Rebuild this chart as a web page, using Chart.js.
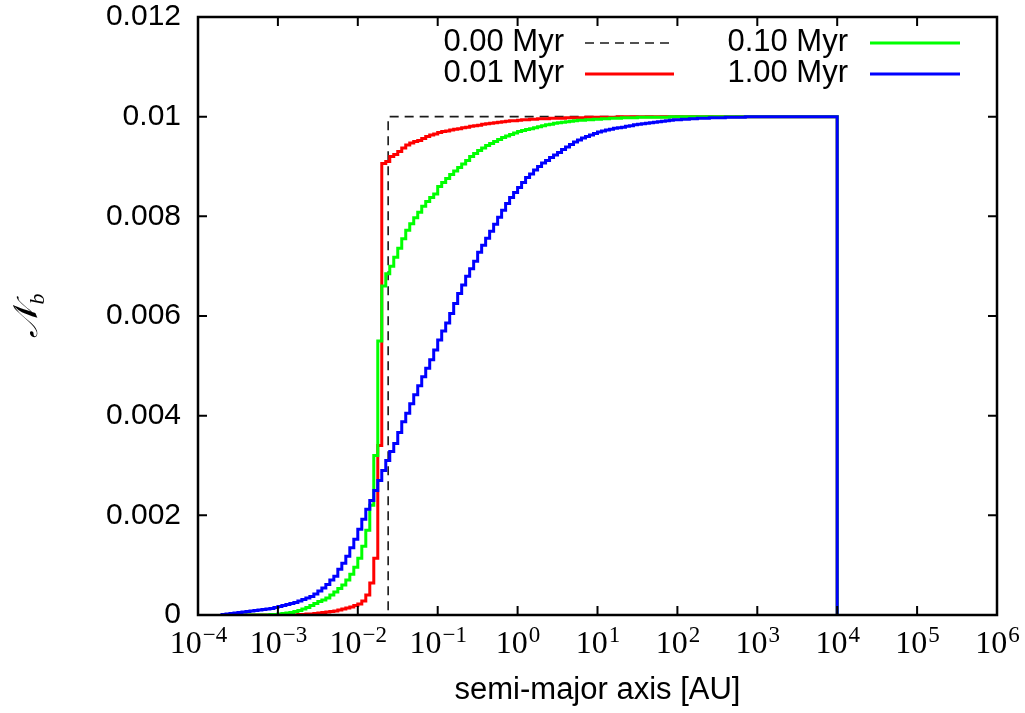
<!DOCTYPE html>
<html>
<head>
<meta charset="utf-8">
<title>N_b versus semi-major axis</title>
<script src="https://cdn.jsdelivr.net/npm/chart.js@4.4.1/dist/chart.umd.min.js"></script>
<style>
	html, body { margin: 0; padding: 0; background: #fff; }
	canvas { display: block; }
</style>
</head>
<body>
<canvas id="nb-chart" width="1025" height="713"></canvas>
<script>
(function() {
	'use strict';

	// Bin edges, log10(a / AU). Every series below has one value per edge.
	const logEdges = [
		-3.70, -3.65, -3.60, -3.55, -3.50, -3.45, -3.40, -3.35, -3.30, -3.25,
		-3.20, -3.15, -3.10, -3.05, -3.00, -2.95, -2.90, -2.85, -2.80, -2.75,
		-2.70, -2.65, -2.60, -2.55, -2.50, -2.45, -2.40, -2.35, -2.30, -2.25,
		-2.20, -2.15, -2.10, -2.05, -2.00, -1.95, -1.90, -1.85, -1.80, -1.75,
		-1.70, -1.65, -1.60, -1.55, -1.50, -1.45, -1.40, -1.35, -1.30, -1.25,
		-1.20, -1.15, -1.10, -1.05, -1.00, -0.95, -0.90, -0.85, -0.80, -0.75,
		-0.70, -0.65, -0.60, -0.55, -0.50, -0.45, -0.40, -0.35, -0.30, -0.25,
		-0.20, -0.15, -0.10, -0.05, 0.00, 0.05, 0.10, 0.15, 0.20, 0.25,
		0.30, 0.35, 0.40, 0.45, 0.50, 0.55, 0.60, 0.65, 0.70, 0.75,
		0.80, 0.85, 0.90, 0.95, 1.00, 1.05, 1.10, 1.15, 1.20, 1.25,
		1.30, 1.35, 1.40, 1.45, 1.50, 1.55, 1.60, 1.65, 1.70, 1.75,
		1.80, 1.85, 1.90, 1.95, 2.00, 2.05, 2.10, 2.15, 2.20, 2.25,
		2.30, 2.35, 2.40, 2.45, 2.50, 2.55, 2.60, 2.65, 2.70, 2.75,
		2.80, 2.85, 2.90, 2.95, 3.00, 4.00, 4.00
	];

	// Cumulative N_b, in units of 1e-3
	const nb001Myr = [
		0, 0, 0, 0, 0, 0, 0, 0, 0, 0,
		0, 0, 0, 0, 0, 0, 0, 0, 0, 0,
		0.01, 0.01, 0.02, 0.02, 0.03, 0.04, 0.05, 0.06, 0.07, 0.08,
		0.10, 0.12, 0.14, 0.16, 0.19, 0.22, 0.28, 0.40, 0.64, 1.14,
		3.40, 9.06, 9.10, 9.20, 9.24, 9.30, 9.37, 9.43, 9.47, 9.50,
		9.52, 9.56, 9.60, 9.63, 9.65, 9.68, 9.70, 9.71, 9.73, 9.75,
		9.76, 9.78, 9.79, 9.81, 9.82, 9.83, 9.85, 9.86, 9.87, 9.88,
		9.89, 9.90, 9.91, 9.92, 9.92, 9.93, 9.94, 9.94, 9.95, 9.95,
		9.96, 9.96, 9.96, 9.97, 9.97, 9.97, 9.97, 9.98, 9.98, 9.98,
		9.98, 9.98, 9.99, 9.99, 9.99, 9.99, 9.99, 9.99, 9.99, 9.99,
		10, 10, 10, 10, 10, 10, 10, 10, 10, 10,
		10, 10, 10, 10, 10, 10, 10, 10, 10, 10,
		10, 10, 10, 10, 10, 10, 10, 10, 10, 10,
		10, 10, 10, 10, 10, 10, 0
	];

	const nb010Myr = [
		0, 0, 0, 0, 0, 0, 0, 0, 0, 0,
		0, 0, 0, 0.01, 0.01, 0.02, 0.03, 0.04, 0.05, 0.07,
		0.09, 0.12, 0.15, 0.19, 0.23, 0.27, 0.30, 0.34, 0.40, 0.46,
		0.53, 0.60, 0.70, 0.82, 0.96, 1.14, 1.38, 1.70, 2.20, 3.20,
		5.50, 6.60, 6.85, 7.00, 7.18, 7.36, 7.55, 7.72, 7.85, 7.97,
		8.08, 8.20, 8.30, 8.38, 8.45, 8.60, 8.68, 8.76, 8.84, 8.91,
		8.98, 9.05, 9.12, 9.20, 9.26, 9.32, 9.37, 9.42, 9.46, 9.50,
		9.54, 9.58, 9.61, 9.64, 9.67, 9.70, 9.72, 9.74, 9.76, 9.78,
		9.80, 9.82, 9.84, 9.85, 9.87, 9.88, 9.89, 9.90, 9.91, 9.92,
		9.93, 9.93, 9.94, 9.94, 9.95, 9.95, 9.96, 9.96, 9.97, 9.97,
		9.97, 9.98, 9.98, 9.98, 9.98, 9.99, 9.99, 9.99, 9.99, 9.99,
		9.99, 9.99, 9.99, 10, 10, 10, 10, 10, 10, 10,
		10, 10, 10, 10, 10, 10, 10, 10, 10, 10,
		10, 10, 10, 10, 10, 10, 0
	];

	const nb100Myr = [
		0, 0.01, 0.02, 0.03, 0.04, 0.05, 0.06, 0.07, 0.08, 0.09,
		0.10, 0.11, 0.12, 0.13, 0.15, 0.17, 0.19, 0.21, 0.23, 0.25,
		0.28, 0.31, 0.34, 0.37, 0.42, 0.48, 0.54, 0.61, 0.70, 0.78,
		0.92, 1.04, 1.18, 1.35, 1.52, 1.72, 1.92, 2.12, 2.30, 2.50,
		2.70, 2.90, 3.10, 3.28, 3.44, 3.66, 3.88, 4.05, 4.24, 4.42,
		4.60, 4.78, 4.95, 5.12, 5.32, 5.52, 5.70, 5.86, 6.05, 6.25,
		6.45, 6.62, 6.80, 6.95, 7.10, 7.28, 7.42, 7.56, 7.70, 7.84,
		7.98, 8.12, 8.26, 8.38, 8.48, 8.58, 8.68, 8.78, 8.85, 8.93,
		9.00, 9.07, 9.12, 9.18, 9.23, 9.28, 9.34, 9.39, 9.44, 9.49,
		9.53, 9.57, 9.60, 9.63, 9.66, 9.69, 9.71, 9.73, 9.75, 9.77,
		9.78, 9.79, 9.81, 9.82, 9.84, 9.85, 9.86, 9.87, 9.88, 9.89,
		9.90, 9.91, 9.92, 9.93, 9.94, 9.94, 9.95, 9.95, 9.96, 9.96,
		9.97, 9.97, 9.97, 9.98, 9.98, 9.98, 9.98, 9.99, 9.99, 9.99,
		9.99, 9.99, 10, 10, 10, 10, 0
	];

	// Initial state: every binary at the same separation
	const initLogEdges = [-4, -1.62, -1.62, 4, 4];
	const nb000Myr = [0, 0, 10, 10, 0];

	const NB_UNIT = 1e-3;

	const xTickExps = [-4, -3, -2, -1, 0, 1, 2, 3, 4, 5, 6];
	const yTicks = [0, 0.002, 0.004, 0.006, 0.008, 0.01, 0.012];

	const SANS = "'Liberation Sans', Arial, sans-serif";
	const SERIF = "'Liberation Serif', 'Times New Roman', serif";
	const TICK = 9;

	/**
	 * Build {x, y} points from a log10 edge list and a value list
	 */
	function toPoints(logs, values) {
		return logs.map((l, i) => ({ x: Math.pow(10, l), y: values[i] * NB_UNIT }));
	}

	/**
	 * gnuplot-like frame, inward ticks, labels and key
	 */
	const gnuplotFrame = {
		id: 'gnuplotFrame',
		afterDraw: function(chart) {
			const ctx = chart.ctx;
			const a = chart.chartArea;
			const xs = chart.scales.x;
			const ys = chart.scales.y;

			ctx.save();
			ctx.strokeStyle = '#000';
			ctx.lineWidth = 2;
			ctx.beginPath();
			xTickExps.forEach(e => {
				const px = xs.getPixelForValue(Math.pow(10, e));
				ctx.moveTo(px, a.bottom); ctx.lineTo(px, a.bottom - TICK);
				ctx.moveTo(px, a.top); ctx.lineTo(px, a.top + TICK);
			});
			yTicks.forEach(v => {
				const py = ys.getPixelForValue(v);
				ctx.moveTo(a.left, py); ctx.lineTo(a.left + TICK, py);
				ctx.moveTo(a.right, py); ctx.lineTo(a.right - TICK, py);
			});
			ctx.stroke();

			ctx.lineWidth = 2.5;
			ctx.strokeRect(a.left, a.top, a.right - a.left, a.bottom - a.top);

			// y tick labels
			ctx.fillStyle = '#000';
			ctx.font = '30px ' + SANS;
			ctx.textAlign = 'right';
			ctx.textBaseline = 'middle';
			yTicks.forEach(v => {
				ctx.fillText(String(Number(v.toFixed(3))), a.left - 17, ys.getPixelForValue(v));
			});

			// x tick labels, 10^n
			ctx.textAlign = 'left';
			ctx.textBaseline = 'alphabetic';
			xTickExps.forEach(e => {
				const px = xs.getPixelForValue(Math.pow(10, e));
				const expText = e < 0 ? '\u2212' + (-e) : String(e);
				ctx.font = '32px ' + SERIF;
				const wBase = ctx.measureText('10').width;
				ctx.font = '23px ' + SERIF;
				const wExp = ctx.measureText(expText).width;
				const x0 = px - (wBase + wExp) / 2;
				ctx.font = '32px ' + SERIF;
				ctx.fillText('10', x0, a.bottom + 38);
				ctx.font = '23px ' + SERIF;
				ctx.fillText(expText, x0 + wBase + 1, a.bottom + 27);
			});

			// axis titles
			ctx.font = '31px ' + SANS;
			ctx.textAlign = 'center';
			ctx.textBaseline = 'middle';
			ctx.fillText('semi-major axis [AU]', (a.left + a.right) / 2, 690);

			ctx.save();
			ctx.translate(26, (a.top + a.bottom) / 2);
			ctx.rotate(-Math.PI / 2);
			ctx.textAlign = 'left';
			ctx.textBaseline = 'alphabetic';
			ctx.font = "italic 34px 'DejaVu Serif', " + SERIF;
			const wN = ctx.measureText('\uD835\uDCA9').width;
			ctx.fillText('\uD835\uDCA9', -(wN + 10) / 2, 11);
			ctx.font = "italic 22px " + SERIF;
			ctx.fillText('b', -(wN + 10) / 2 + wN, 18);
			ctx.restore();

			// key
			ctx.font = '31px ' + SANS;
			ctx.textAlign = 'right';
			ctx.textBaseline = 'middle';
			const keyPos = [
				{ tx: 564, x1: 585, x2: 674, y: 42 },
				{ tx: 564, x1: 585, x2: 674, y: 73 },
				{ tx: 848, x1: 870, x2: 960, y: 42 },
				{ tx: 848, x1: 870, x2: 960, y: 73 }
			];
			chart.data.datasets.forEach((ds, i) => {
				const k = keyPos[i];
				ctx.fillStyle = '#000';
				ctx.fillText(ds.label, k.tx, k.y);
				ctx.strokeStyle = ds.borderColor;
				ctx.lineWidth = ds.borderWidth;
				ctx.setLineDash(ds.borderDash || []);
				ctx.beginPath();
				ctx.moveTo(k.x1, k.y + 1);
				ctx.lineTo(k.x2, k.y + 1);
				ctx.stroke();
			});
			ctx.setLineDash([]);
			ctx.restore();
		}
	};

	new Chart(document.getElementById('nb-chart'), {
		type: 'line',
		data: {
			datasets: [
				{
					label: '0.00 Myr',
					data: toPoints(initLogEdges, nb000Myr),
					borderColor: '#1a1a1a',
					borderWidth: 1.6,
					borderDash: [9, 6],
					stepped: 'after',
					order: 3
				},
				{
					label: '0.01 Myr',
					data: toPoints(logEdges, nb001Myr),
					borderColor: '#ff0000',
					borderWidth: 3,
					stepped: 'after',
					order: 2
				},
				{
					label: '0.10 Myr',
					data: toPoints(logEdges, nb010Myr),
					borderColor: '#00ff00',
					borderWidth: 3,
					stepped: 'after',
					order: 1
				},
				{
					label: '1.00 Myr',
					data: toPoints(logEdges, nb100Myr),
					borderColor: '#0000ff',
					borderWidth: 3,
					stepped: 'after',
					order: 0
				}
			]
		},
		options: {
			responsive: false,
			animation: false,
			devicePixelRatio: 1,
			layout: { padding: { left: 0, right: 28, top: 17, bottom: 0 } },
			elements: {
				point: { radius: 0, hoverRadius: 0 },
				line: { tension: 0, fill: false }
			},
			plugins: {
				legend: { display: false },
				tooltip: { enabled: false }
			},
			scales: {
				x: {
					type: 'logarithmic',
					min: 1e-4,
					max: 1e6,
					grid: { display: false },
					border: { display: false },
					ticks: { display: false },
					afterFit: function(scale) { scale.height = 98; }
				},
				y: {
					type: 'linear',
					min: 0,
					max: 0.012,
					grid: { display: false },
					border: { display: false },
					ticks: { display: false },
					afterFit: function(scale) { scale.width = 198; }
				}
			}
		},
		plugins: [gnuplotFrame]
	});
})();
</script>
</body>
</html>
